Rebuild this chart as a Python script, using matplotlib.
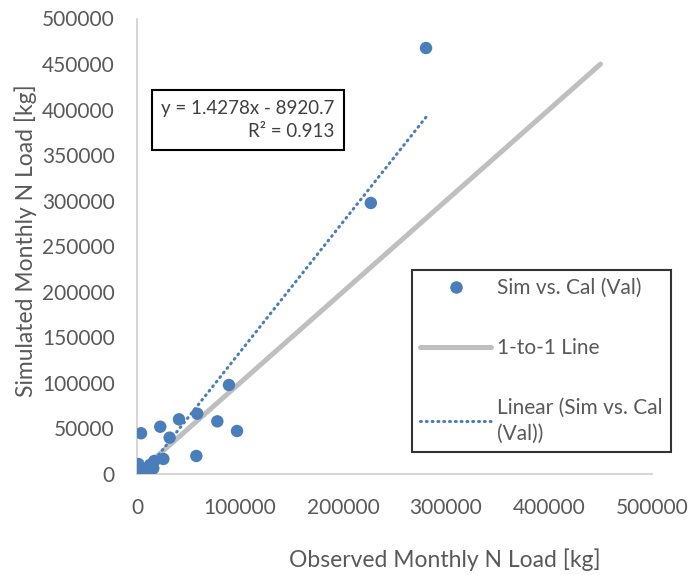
import numpy as np
import matplotlib.pyplot as plt
from matplotlib.lines import Line2D

plt.rcParams['font.family'] = ['Lato', 'DejaVu Sans']

# observed vs simulated monthly N load (kg)
observed = [280600, 227000, 89300, 97100, 78000, 58500, 57600, 40800, 31700,
            22600, 3900, 25600, 16800, 1300, 0, 8400, 15800, 4500, 12600]
simulated = [467600, 297500, 97700, 47200, 57800, 66200, 19800, 60000, 39900,
             51900, 44700, 16500, 14300, 11000, 1400, 3600, 6200, 6200, 9900]

one_to_one = [0, 450000]

TREND_SLOPE = 1.4278
TREND_INTERCEPT = -8920.7
R2 = 0.913

ticks = [0, 100000, 200000, 300000, 400000, 500000]
yticks = list(range(0, 500001, 50000))

BLUE = '#4a7ebb'
GRAY = '#bfbfbf'
TXT = '#595959'

fig = plt.figure(figsize=(6.91, 5.75), dpi=100)
ax = fig.add_axes([137 / 691, 101 / 575, 515 / 691, 455.5 / 575])

ax.plot(one_to_one, one_to_one, color=GRAY, lw=3.6, solid_capstyle='round', zorder=1)

x_fit = np.array([0, max(observed)])
ax.plot(x_fit, TREND_SLOPE * x_fit + TREND_INTERCEPT, color=BLUE, lw=2.2,
        dashes=(0.3, 1.6), dash_capstyle='round', zorder=2)

ax.scatter(observed, simulated, s=80, color=BLUE, edgecolors='none', zorder=3)

ax.set_xlim(0, 500000)
ax.set_ylim(0, 500000)
ax.set_xticks(ticks)
ax.set_yticks(yticks)
ax.tick_params(axis='x', length=0, pad=17, labelsize=15, labelcolor=TXT)
ax.tick_params(axis='y', length=0, pad=16, labelsize=15, labelcolor=TXT)
for side in ['top', 'right']:
    ax.spines[side].set_visible(False)
for side in ['left', 'bottom']:
    ax.spines[side].set_color('#d0d0d0')
    ax.spines[side].set_linewidth(1.2)

fig.text(445 / 691, 15 / 575, 'Observed Monthly N Load [kg]', ha='center', va='center',
         fontsize=16.5, color=TXT)
fig.text(26 / 691, 1 - 241 / 575, 'Simulated Monthly N Load [kg]', ha='center', va='center',
         rotation=90, fontsize=16.5, color=TXT)

eq = f'y = {TREND_SLOPE}x - {abs(TREND_INTERCEPT)}\nR² = {R2}'
fig.text(161 / 691, 1 - 120 / 575, eq, ha='left', va='center', multialignment='right',
         fontsize=13.5, color='#404040', linespacing=1.45,
         bbox=dict(boxstyle='square,pad=0.5', facecolor='white', edgecolor='black', lw=1.5))

handles = [
    Line2D([], [], ls='none', marker='o', markersize=9, color=BLUE, markeredgewidth=0),
    Line2D([], [], color=GRAY, lw=3.6, solid_capstyle='round'),
    Line2D([], [], color=BLUE, lw=2.2, dashes=(0.3, 1.6), dash_capstyle='round'),
]
labels = ['Sim vs. Cal (Val)', '1-to-1 Line', 'Linear (Sim vs. Cal\n(Val))']
leg = fig.legend(handles, labels, loc='upper left', bbox_to_anchor=(412 / 691, 1 - 270 / 575),
                 fontsize=15, labelcolor=TXT, frameon=True, fancybox=False,
                 edgecolor='black', handlelength=3.4, handletextpad=0.3,
                 labelspacing=1.9, borderpad=0.4, borderaxespad=0)
leg.get_frame().set_linewidth(1.5)
for t in leg.get_texts():
    t.set_linespacing(1.4)

fig.savefig('out.png', dpi=100)
